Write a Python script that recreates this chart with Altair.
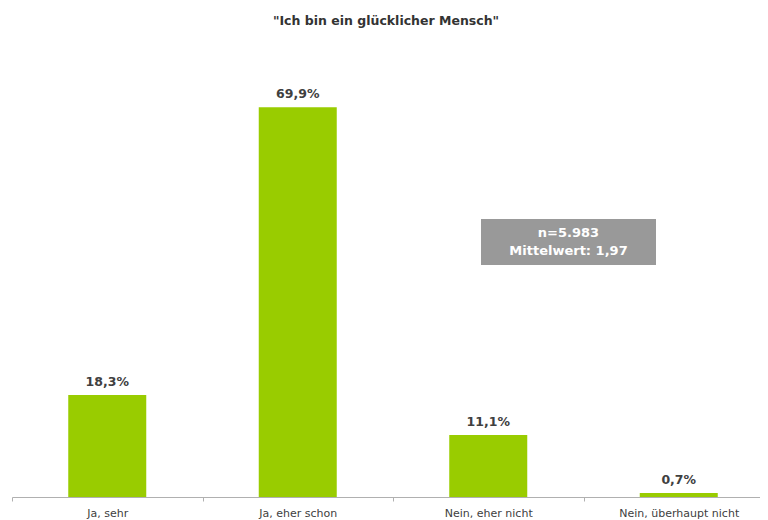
import altair as alt
import pandas as pd

categories = ["Ja, sehr", "Ja, eher schon", "Nein, eher nicht", "Nein, überhaupt nicht"]
values = [18.3, 69.9, 11.1, 0.7]
title_text = '"Ich bin ein glücklicher Mensch"'
info_lines = ["n=5.983", "Mittelwert: 1,97"]

df = pd.DataFrame({"cat": categories, "val": values})

W, H = 748, 446
FONT = "DejaVu Sans"

base = alt.Chart(df).encode(
    x=alt.X("cat:N", sort=categories,
            scale=alt.Scale(paddingInner=0, paddingOuter=0, range=[0, 762]),
            axis=alt.Axis(title=None, labelAngle=0, tickBand="extent",
                          domainColor="#b0b0b0", tickColor="#b0b0b0", tickSize=4,
                          labelFont=FONT, labelFontSize=11, labelColor="#404040",
                          labelPadding=6)),
    y=alt.Y("val:Q", scale=alt.Scale(domain=[0, 80]), axis=None),
)

bars = base.mark_bar(color="#99cc00", size=78)
labels = base.transform_calculate(
    lbl="replace(format(datum.val, '.1f'), '.', ',') + '%'"
).mark_text(dy=-13, font=FONT, fontSize=12.5, fontWeight="bold", color="#404040").encode(
    text="lbl:N"
)

box = alt.Chart(pd.DataFrame({"a": [0]})).mark_rect(color="#999999").encode(
    x=alt.value(469), x2=alt.value(644), y=alt.value(168), y2=alt.value(214)
)
info = alt.Chart(pd.DataFrame({"t": info_lines, "yy": [182, 200]})).mark_text(
    font=FONT, fontSize=13, fontWeight="bold", color="white"
).encode(
    x=alt.value(556.5), y=alt.Y("yy:Q", scale=None), text="t:N"
)

chart = alt.layer(bars, labels, box, info).properties(
    width=W, height=H,
    title=alt.Title(title_text, font=FONT, fontSize=12.5, fontWeight="bold",
                    color="#333333", anchor="middle", offset=24),
    padding={"left": 4, "top": 43, "right": 0, "bottom": 23},
    autosize=alt.AutoSizeParams(type="none"),
    background="white",
).configure_view(stroke=None)

chart.save("out.html", embed_options={"renderer": "svg", "actions": False})
